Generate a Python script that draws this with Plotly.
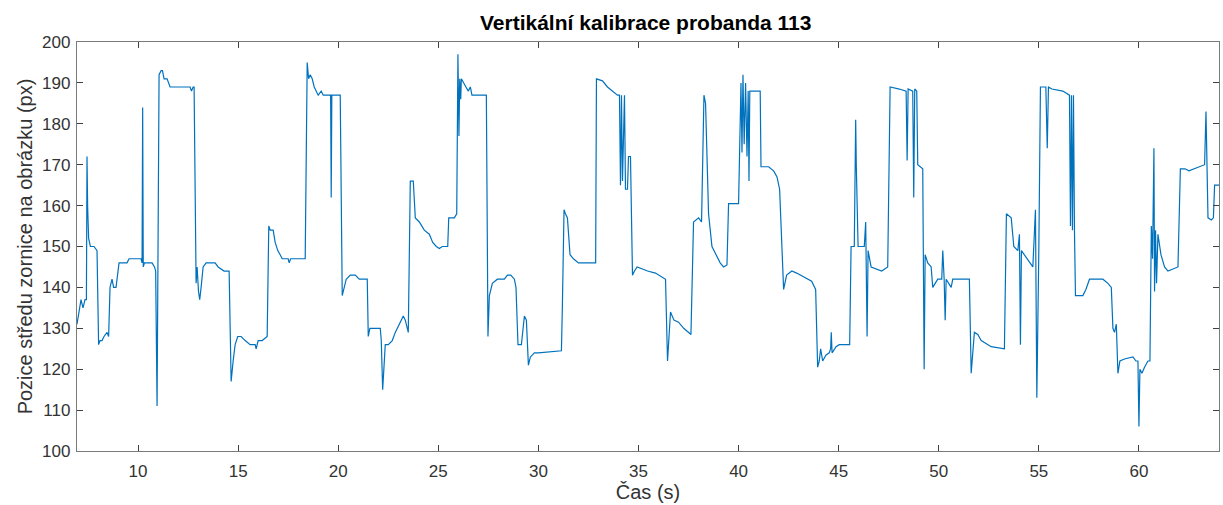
import plotly.graph_objects as go

time_s = [
    6.95, 7.05, 7.15, 7.25, 7.35, 7.42, 7.45, 7.48, 7.53, 7.62, 7.8, 7.95, 8.03, 8.1, 8.2, 8.3, 8.45, 8.53,
    8.6, 8.7, 8.78, 8.9, 9.05, 9.3, 9.45, 9.55, 10.15, 10.2, 10.23, 10.26, 10.32, 10.7, 10.82, 10.88,
    10.95, 11.05, 11.15, 11.22, 11.3, 11.45, 11.6, 12.6, 12.67, 12.75, 12.8, 12.9, 12.95, 13.02, 13.08,
    13.15, 13.25, 13.4, 13.85, 14.0, 14.3, 14.55, 14.65, 14.75, 14.85, 14.98, 15.15, 15.35, 15.6, 15.85,
    15.9, 16.0, 16.1, 16.2, 16.45, 16.53, 16.6, 16.75, 16.85, 16.98, 17.1, 17.2, 17.5, 17.55, 17.62,
    18.35, 18.45, 18.52, 18.6, 18.7, 18.8, 18.9, 19.0, 19.15, 19.25, 19.62, 19.65, 19.68, 20.1, 20.2,
    20.3, 20.4, 20.6, 20.85, 21.05, 21.45, 21.5, 21.58, 22.1, 22.15, 22.22, 22.28, 22.35, 22.5, 22.7,
    22.85, 23.05, 23.25, 23.35, 23.5, 23.6, 23.75, 23.85, 24.05, 24.3, 24.55, 24.72, 24.9, 25.05, 25.2,
    25.47, 25.52, 25.8, 25.92, 25.98, 26.03, 26.07, 26.12, 26.15, 26.25, 26.38, 26.5, 26.6, 26.68,
    27.4, 27.48, 27.55, 27.7, 27.95, 28.3, 28.45, 28.62, 28.8, 28.88, 28.98, 29.15, 29.3, 29.4, 29.5,
    29.6, 29.8, 30.0, 31.15, 31.2, 31.28, 31.35, 31.45, 31.58, 31.75, 32.0, 32.86, 32.9, 33.2, 33.45,
    33.7, 33.95, 34.05, 34.1, 34.15, 34.2, 34.3, 34.35, 34.45, 34.5, 34.6, 34.7, 34.8, 34.93, 35.2,
    35.45, 35.85, 36.2, 36.35, 36.45, 36.6, 36.77, 37.0, 37.26, 37.62, 37.75, 38.0, 38.15, 38.27, 38.35,
    38.5, 38.67, 38.92, 39.08, 39.25, 39.42, 39.5, 40.0, 40.12, 40.17, 40.22, 40.28, 40.35, 40.42,
    40.48, 40.52, 40.56, 41.08, 41.12, 41.5, 41.75, 41.92, 42.05, 42.12, 42.2, 42.25, 42.4, 42.66,
    42.9, 43.24, 43.65, 43.85, 43.95, 44.03, 44.1, 44.2, 44.37, 44.53, 44.6, 44.63, 44.67, 44.87,
    45.03, 45.55, 45.62, 45.78, 45.85, 45.88, 45.92, 45.97, 46.28, 46.35, 46.42, 46.47, 46.62, 46.87,
    47.15, 47.45, 47.57, 48.03, 48.37, 48.42, 48.47, 48.7, 48.75, 48.8, 48.9, 48.95, 49.2, 49.27,
    49.32, 49.45, 49.62, 49.7, 49.95, 50.15, 50.2, 50.27, 50.32, 50.37, 50.62, 50.7, 51.53, 51.62,
    51.78, 51.95, 52.12, 52.62, 53.28, 53.38, 53.62, 53.75, 53.95, 54.03, 54.08, 54.13, 54.53, 54.7,
    54.83, 54.9, 55.0, 55.08, 55.35, 55.42, 55.48, 55.65, 56.2, 56.53, 56.58, 56.63, 56.68, 56.73,
    56.78, 56.83, 57.2, 57.35, 57.53, 57.78, 58.2, 58.45, 58.62, 58.7, 58.78, 58.87, 58.95, 59.05,
    59.28, 59.7, 59.85, 59.95, 60.0, 60.05, 60.15, 60.28, 60.45, 60.55, 60.62, 60.68, 60.75, 60.78,
    60.83, 60.88, 60.95, 61.1, 61.28, 61.45, 61.95, 62.07, 62.3, 62.5, 62.78, 63.28, 63.35, 63.4,
    63.45, 63.62, 63.72, 63.78, 64.0,
]

pupil_y = [
    131, 134, 137, 135, 137, 137, 172, 160, 152, 150, 150, 149, 126, 127, 127, 128, 129, 128,
    140, 142, 140, 140, 146, 146, 146, 147, 147, 146, 184, 145, 146, 146, 145, 144,
    111, 192, 193, 193, 191, 191, 189, 189, 188, 189, 189, 141, 145, 139, 137,
    140, 145, 146, 146, 145, 144, 144, 117, 122, 126, 128, 128, 127, 126, 126,
    125, 127, 127, 127, 128, 155, 154, 154, 151, 149, 148, 147, 147, 146, 147,
    147, 195, 191, 192, 191, 189, 188, 187, 188, 187, 187, 162, 187, 187, 138,
    140, 142, 143, 143, 142, 142, 128, 130, 130, 127, 115, 122, 126, 126, 127,
    129, 131, 133, 132, 129, 166, 166, 157, 156, 154, 153, 151, 150, 149.5, 150,
    150, 157, 157, 158, 197, 177, 191, 186, 191, 190, 189, 188, 189, 187,
    187, 128, 138, 141, 142, 142, 143, 143, 142, 140, 126, 126, 133, 132, 121,
    123, 124, 124, 124.5, 136, 159, 158, 157, 148, 147, 146, 146, 191, 190.5, 189,
    188, 187, 187, 165, 187, 166, 187, 164, 164, 172, 172, 143, 144, 145, 144.5,
    144, 143.5, 142.5, 142, 122, 134, 132, 131.5, 130, 128.5, 156, 157, 156, 187, 185,
    158, 150, 147.5, 146, 145, 145.5, 160.5, 160.5, 190, 173, 192, 175, 190, 172,
    188, 166, 188, 188, 169.5, 169.5, 168.5, 167, 164, 155, 145, 139.5, 143, 144,
    143.5, 142.5, 141.5, 139.5, 120.5, 122, 125, 122, 123.5, 124, 125, 129, 124, 125.5,
    126, 126, 150, 150, 181, 170, 160, 150, 150, 156, 128, 149, 145, 144.5,
    144, 145, 189, 188.5, 188, 171, 188.5, 188, 162, 188.5, 188, 170, 169, 120,
    148, 146, 145, 140, 142, 142, 149, 142, 132, 142, 140, 142, 142, 119,
    129, 128.5, 127, 125.5, 125, 158, 157, 150, 149, 153, 126, 149, 146, 145,
    159, 113, 149.5, 189, 189, 174, 189, 188.5, 188, 187, 155, 187, 154, 187,
    154, 138, 138, 139.5, 142, 142, 142, 141, 140, 130, 129, 131, 119, 122,
    122.5, 123, 122, 122, 106, 120, 119, 120.5, 122, 122, 155, 147, 174, 139,
    154, 141, 153, 148, 145, 144, 145, 169, 169, 168.5, 169, 170, 183, 170,
    157, 156.5, 157, 165, 165,
]

x_ticks = [10, 15, 20, 25, 30, 35, 40, 45, 50, 55, 60]
y_ticks = [100, 110, 120, 130, 140, 150, 160, 170, 180, 190, 200]

title_text = "Vertikální kalibrace probanda 113"
x_title = "Čas (s)"
y_title = "Pozice středu zornice na obrázku (px)"

FONT = "Liberation Sans, Arial, Helvetica, sans-serif"

fig = go.Figure(
    go.Scatter(
        x=time_s, y=pupil_y, mode="lines",
        line=dict(color="#0072BD", width=1.2),
        hoverinfo="x+y",
    )
)

axis_common = dict(
    showline=True, linecolor="#7a7a7a", linewidth=1.3, mirror="ticks",
    ticks="inside", ticklen=6, tickwidth=1, tickcolor="#404040",
    showgrid=False, zeroline=False,
    tickfont=dict(family=FONT, size=17, color="#333333"),
)

fig.update_layout(
    width=1223, height=505,
    margin=dict(l=77, r=4, t=42, b=54),
    paper_bgcolor="white", plot_bgcolor="white",
    showlegend=False,
    title=dict(
        text="<b>" + title_text + "</b>",
        x=0.528, xanchor="center", y=0.956, yanchor="middle",
        font=dict(family=FONT, size=21, color="black"),
    ),
    xaxis=dict(
        range=[6.95, 64.0], tickvals=x_ticks, ticklabelstandoff=4,
        title=dict(text=x_title, standoff=2,
                   font=dict(family=FONT, size=20, color="#333333")),
        **axis_common,
    ),
    yaxis=dict(
        range=[100, 200], tickvals=y_ticks, ticklabelstandoff=2,
        title=dict(text=y_title, standoff=4,
                   font=dict(family=FONT, size=20, color="#333333")),
        **axis_common,
    ),
)

fig.write_html("out.html")
